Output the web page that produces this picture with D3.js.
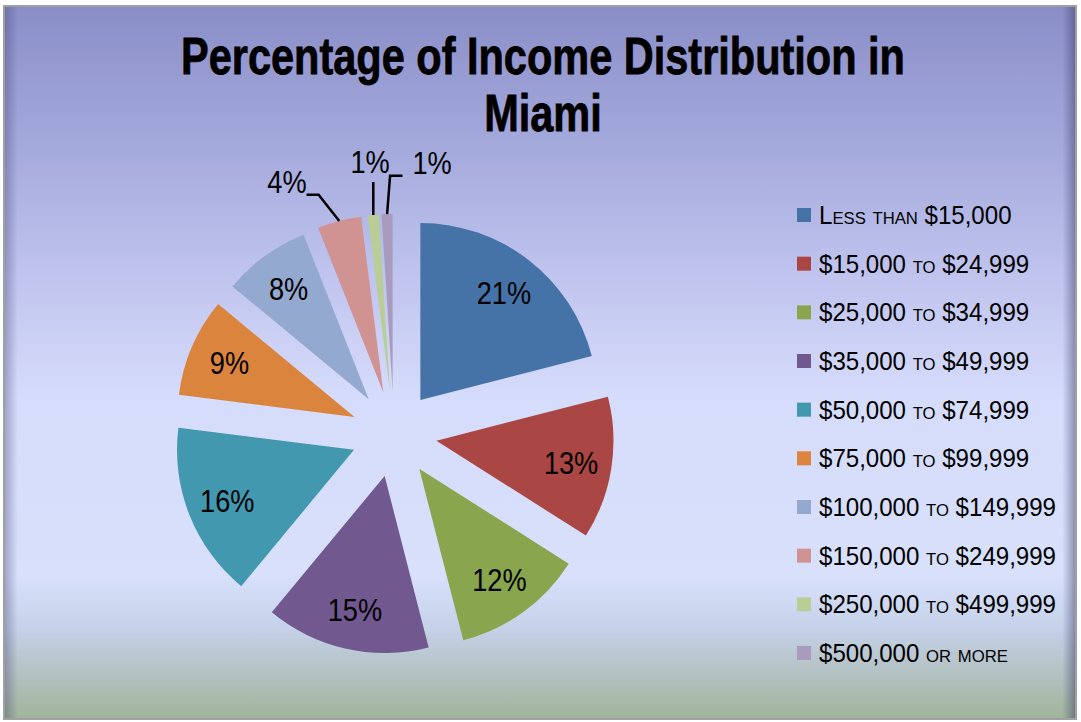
<!DOCTYPE html>
<html>
<head>
<meta charset="utf-8">
<script src="https://cdn.jsdelivr.net/npm/d3@7"></script>
<style>
  html, body { margin: 0; padding: 0; background: #ffffff; }
  svg { display: block; }
</style>
</head>
<body>
<svg id="chart" width="1081" height="722"></svg>
<script>
// ---- data ----
const categories = [
  "Less than $15,000",
  "$15,000 to $24,999",
  "$25,000 to $34,999",
  "$35,000 to $49,999",
  "$50,000 to $74,999",
  "$75,000 to $99,999",
  "$100,000 to $149,999",
  "$150,000 to $249,999",
  "$250,000 to $499,999",
  "$500,000 or more"
];
const percents = [21, 13, 12, 15, 16, 9, 8, 4, 1, 1];
const colors = ["#4572a7", "#aa4643", "#89a54e", "#71588f", "#4198af",
                "#db843d", "#93a9cf", "#d19392", "#b9cd96", "#a99bbd"];
const titleLines = ["Percentage of Income Distribution in", "Miami"];

// ---- layout ----
const W = 1081, H = 722;
const svg = d3.select("#chart");
const defs = svg.append("defs");

const bg = defs.append("linearGradient").attr("id", "bg")
  .attr("x1", 0).attr("y1", 0).attr("x2", 0).attr("y2", 1);
[[0, "#8a8ec7"], [0.2, "#a5aadd"], [0.4, "#c3c7f0"], [0.55, "#d6dcfb"],
 [0.8, "#d8e0fb"], [0.87, "#c6d2ea"], [0.93, "#b5c3c6"], [1, "#a0b49a"]]
  .forEach(([o, c]) => bg.append("stop").attr("offset", o).attr("stop-color", c));

const edge = defs.append("linearGradient").attr("id", "edge")
  .attr("x1", 0).attr("y1", 0).attr("x2", 1).attr("y2", 0);
[[0, "rgba(60,60,110,0.35)"], [0.012, "rgba(60,60,110,0)"],
 [0.988, "rgba(60,60,110,0)"], [1, "rgba(50,50,90,0.45)"]]
  .forEach(([o, c]) => edge.append("stop").attr("offset", o).attr("stop-color", c));

svg.append("rect").attr("x", 4).attr("y", 6).attr("width", 1072).attr("height", 713)
  .attr("fill", "url(#bg)").attr("stroke", "#a0a0a0").attr("stroke-width", 2);
svg.append("rect").attr("x", 5).attr("y", 7).attr("width", 1070).attr("height", 711)
  .attr("fill", "url(#edge)");

// ---- title ----
const titleG = svg.append("g");
const titleFont = "'Liberation Sans', Arial, sans-serif";
const t1 = titleG.append("text").text(titleLines[0])
  .attr("font-family", titleFont).attr("font-weight", "bold").attr("font-size", 51)
  .attr("text-anchor", "middle").attr("fill", "#000")
  .attr("stroke", "#000").attr("stroke-width", 0.8);
const natural = t1.node().getComputedTextLength();
const tScale = 724 / natural;
t1.attr("transform", `translate(543,74) scale(${tScale},1)`);
titleG.append("text").text(titleLines[1])
  .attr("font-family", titleFont).attr("font-weight", "bold").attr("font-size", 51)
  .attr("text-anchor", "middle").attr("fill", "#000")
  .attr("stroke", "#000").attr("stroke-width", 0.8)
  .attr("transform", `translate(543,131) scale(${tScale},1)`);

// ---- pie ----
const cx = 394, cy = 434, R = 177, explode = 43;
const pie = d3.pie().sort(null).value(d => d)(percents);
const arc = d3.arc().innerRadius(0).outerRadius(R);
const dir = a => [Math.sin(a), -Math.cos(a)];

const slices = svg.append("g").attr("transform", `translate(${cx},${cy})`);
pie.forEach((p, i) => {
  const mid = (p.startAngle + p.endAngle) / 2;
  const [dx, dy] = dir(mid);
  p.apex = [dx * explode, dy * explode];
  p.mid = mid;
  slices.append("path")
    .attr("d", arc(p))
    .attr("transform", `translate(${p.apex[0]},${p.apex[1]})`)
    .attr("fill", colors[i]);
});

const labelFont = "'Liberation Sans', Arial, sans-serif";
const labelG = svg.append("g").attr("transform", `translate(${cx},${cy})`);
// inside labels
pie.forEach((p, i) => {
  if (percents[i] < 5) return;
  const [dx, dy] = dir(p.mid);
  const x = p.apex[0] + dx * R * 0.77, y = p.apex[1] + dy * R * 0.77;
  labelG.append("text").text(percents[i] + "%")
    .attr("font-family", labelFont).attr("font-size", 32)
    .attr("text-anchor", "middle").attr("dy", "0.36em").attr("fill", "#000")
    .attr("transform", `translate(${x},${y}) scale(0.85,1)`);
});
// outside labels with leader lines
const outsideNudge = { 7: -8.6, 8: 0.4, 9: 9.8 };
const outsideR = 274;
pie.forEach((p, i) => {
  if (percents[i] >= 5) return;
  const [dx, dy] = dir(p.mid);
  const ox = p.apex[0] + dx * R, oy = p.apex[1] + dy * R;
  const la = p.mid + (outsideNudge[i] || 0) * Math.PI / 180;
  const [lx0, ly0] = dir(la);
  const lx = lx0 * outsideR, ly = ly0 * outsideR;
  const txt = labelG.append("text").text(percents[i] + "%")
    .attr("font-family", labelFont).attr("font-size", 32)
    .attr("text-anchor", "middle").attr("dy", "0.36em").attr("fill", "#000")
    .attr("transform", `translate(${lx},${ly}) scale(0.85,1)`);
  const w = txt.node().getComputedTextLength() * 0.85;
  let pts;
  if (lx < ox - 20) {
    pts = [[ox, oy], [lx + w / 2 + 12, ly + 13], [lx + w / 2, ly + 13]];
  } else if (lx > ox + 20) {
    pts = [[ox, oy], [ox + 3, ly + 13], [lx - w / 2 - 10, ly + 13]];
  } else {
    pts = [[ox, oy], [ox, ly + 21]];
  }
  labelG.append("path").attr("d", d3.line()(pts))
    .attr("fill", "none").attr("stroke", "#000").attr("stroke-width", 2.5);
});

// ---- legend ----
const legendY = d3.scalePoint().domain(categories).range([215, 653]);
const legend = svg.append("g");
const legendTexts = [];
categories.forEach((c, i) => {
  const y = legendY(c);
  legend.append("rect").attr("x", 797).attr("y", y - 7).attr("width", 14).attr("height", 14)
    .attr("fill", colors[i]);
  const t = legend.append("text").text(c)
    .attr("font-family", labelFont).attr("font-size", 25)
    .attr("font-variant", "small-caps").attr("fill", "#000");
  legendTexts.push({ t, y });
});
const refLen = d3.max(legendTexts, d => d.t.node().getComputedTextLength());
const lScale = 238 / refLen;
legendTexts.forEach(({ t, y }) => {
  t.attr("transform", `translate(819,${y + 9}) scale(${lScale},1)`);
});
</script>
</body>
</html>
